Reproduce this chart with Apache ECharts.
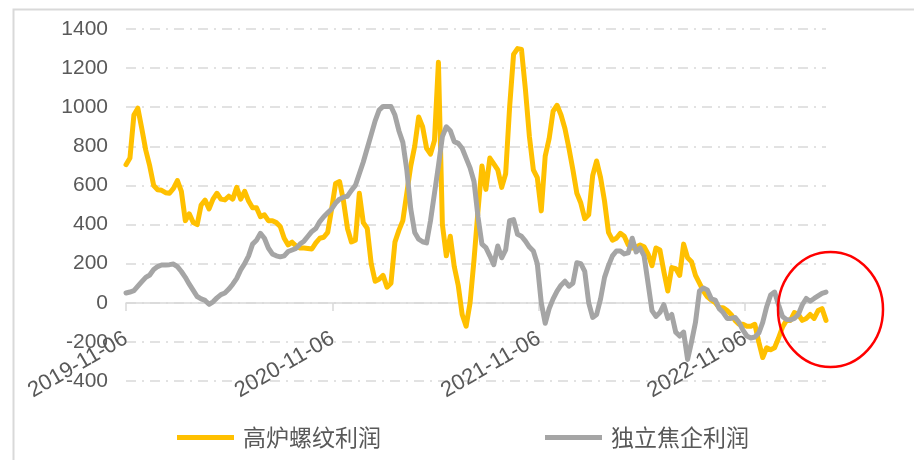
<!DOCTYPE html>
<html>
<head>
<meta charset="utf-8">
<script src="https://cdn.jsdelivr.net/npm/echarts@6/dist/echarts.min.js"></script>
<style>
html,body{margin:0;padding:0;background:#fff;}
#main{width:914px;height:460px;}
</style>
</head>
<body>
<div id="main"></div>
<script>
//周度数据，起始日期
var startDate=[2019,10,6];
var weekDays=7;
//x轴刻度日期
var tickDates=['2019-11-06','2020-11-06','2021-11-06','2022-11-06'];
var seriesNames=['高炉螺纹利润','独立焦企利润'];

//高炉螺纹利润
var steelProfit=[706,740,960,995,890,780,700,600,578,575,
    563,560,585,625,570,420,455,410,400,500,
    525,480,530,560,530,526,545,530,590,530,
    570,520,486,486,440,450,420,420,410,390,
    330,296,310,290,280,280,278,275,306,330,
    335,360,480,610,620,520,380,311,320,560,
    410,380,200,110,120,140,80,100,310,370,
    420,560,700,800,950,900,790,760,830,1230,
    400,240,340,185,90,-60,-120,0,220,470,
    700,580,740,710,680,590,660,1000,1270,1300,
    1295,1090,850,680,640,470,750,840,980,1010,
    960,890,790,680,560,510,430,450,650,725,
    640,520,360,320,330,355,340,295,280,285,
    295,286,250,190,280,270,160,60,180,175,
    140,300,230,210,140,100,60,30,14,0,
    -25,-25,-40,-60,-90,-110,-110,-120,-120,-110,
    -200,-280,-230,-240,-230,-180,-124,-90,-90,-50,
    -60,-90,-80,-60,-80,-40,-30,-90];

//独立焦企利润
var cokeProfit=[50,55,62,85,108,130,142,170,185,193,
    193,195,198,185,160,130,95,63,32,20,
    12,-8,5,25,42,50,70,95,125,168,
    200,240,300,320,355,330,280,250,240,235,
    240,262,270,278,300,315,340,365,380,415,
    440,460,480,510,530,540,545,575,600,660,
    720,790,860,930,985,1004,1004,1004,960,880,
    820,680,480,360,325,312,306,420,560,700,
    850,900,880,824,815,790,740,690,620,440,
    300,282,240,195,290,230,270,420,425,350,
    340,315,285,265,200,0,-105,-30,20,60,
    90,110,85,100,205,200,160,0,-75,-60,
    20,130,190,240,265,265,250,255,330,260,
    280,240,100,-40,-70,-50,-10,-80,-60,-150,
    -170,-150,-290,-200,-100,60,75,65,20,14,
    -30,-50,-80,-80,-75,-100,-140,-170,-180,-175,
    -155,-100,-20,40,55,-10,-70,-85,-88,-80,
    -60,-10,22,8,22,35,48,55];

//日期序列
var dayMs=24*3600*1000;
var t0=Date.UTC(startDate[0],startDate[1],startDate[2]);
function toPairs(arr){
    var out=[];
    for(var i=0;i<arr.length;i++){
        out.push([t0+i*weekDays*dayMs,arr[i]]);
    }
    return out;
}
var tickValues=tickDates.map(function(s){
    var p=s.split('-');
    return Date.UTC(+p[0],+p[1]-1,+p[2]);
});
function fmtDate(v){
    var d=new Date(v);
    var m=d.getUTCMonth()+1;
    var dd=d.getUTCDate();
    return d.getUTCFullYear()+'-'+(m>9?m:'0'+m)+'-'+(dd>9?dd:'0'+dd);
}

var myChart=echarts.init(document.getElementById('main'),null,{renderer:'canvas'});
var gridColor='#d9d9d9';
var textColor='#595959';

option={
    animation:false,
    backgroundColor:'#fff',
    grid:{
        left:126,
        right:88,
        top:29,
        bottom:79,
        outerBoundsMode:'none'
    },
    legend:{
        left:177,
        top:426,
        padding:0,
        icon:'rect',
        itemWidth:57,
        itemHeight:5,
        itemGap:164,
        textStyle:{
            color:textColor,
            fontSize:23,
            fontFamily:'Noto Sans CJK SC',
            padding:[0,0,0,4]
        },
        data:seriesNames
    },
    xAxis:{
        type:'value',
        min:t0,
        max:t0+(steelProfit.length-1)*weekDays*dayMs,
        //轴线放在0值处
        offset:-78,
        axisLine:{onZero:false,lineStyle:{color:gridColor,width:1.5}},
        axisTick:{show:true,length:8,customValues:tickValues,lineStyle:{color:gridColor,width:1.5}},
        splitLine:{show:false},
        axisLabel:{
            customValues:tickValues,
            rotate:30,
            margin:34,
            color:textColor,
            fontSize:22,
            fontFamily:'Liberation Sans',
            formatter:fmtDate
        }
    },
    yAxis:{
        type:'value',
        min:-400,
        max:1400,
        interval:200,
        axisLine:{show:false},
        axisTick:{show:false},
        axisLabel:{
            color:textColor,
            fontSize:21,
            fontFamily:'Liberation Sans',
            margin:18,
            formatter:function(v){return String(v);}
        },
        splitLine:{lineStyle:{color:gridColor,width:1.5,type:[10,6,2,6]}}
    },
    series:[
        {
            name:seriesNames[0],
            type:'line',
            showSymbol:false,
            data:toPairs(steelProfit),
            lineStyle:{color:'#FFC000',width:5,join:'round',cap:'round'},
            itemStyle:{color:'#FFC000'}
        },
        {
            name:seriesNames[1],
            type:'line',
            showSymbol:false,
            data:toPairs(cokeProfit),
            lineStyle:{color:'#A5A5A5',width:5,join:'round',cap:'round'},
            itemStyle:{color:'#A5A5A5'}
        }
    ],
    graphic:[
        //外框
        {
            type:'rect',
            left:11,
            top:7,
            shape:{width:1000,height:500},
            style:{fill:'none',stroke:gridColor,lineWidth:2},
            silent:true
        },
        //红圈标注
        {
            type:'ellipse',
            shape:{cx:830.5,cy:309.5,rx:52.5,ry:57.5},
            style:{fill:'none',stroke:'#FF0000',lineWidth:2.5},
            silent:true,
            z:100
        }
    ]
};
myChart.setOption(option);
</script>
</body>
</html>
